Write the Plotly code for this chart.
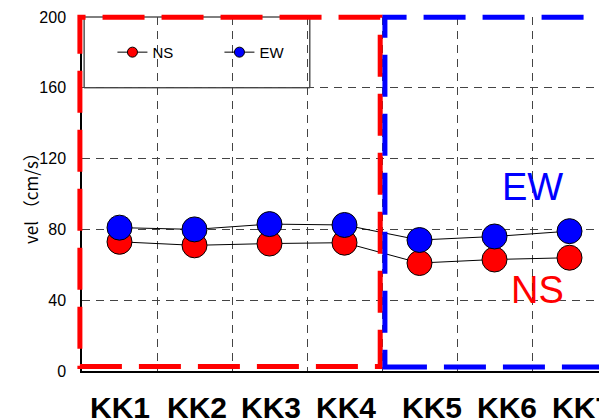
import plotly.graph_objects as go

stations = ["KK1", "KK2", "KK3", "KK4", "KK5", "KK6", "KK7"]
vel_ns = [73, 71, 72, 72.5, 61, 63, 64]
vel_ew = [81, 80, 83, 82.5, 74, 76, 79]

NARROW = "Liberation Sans Narrow, Arial Narrow, Liberation Sans, Arial, sans-serif"

fig = go.Figure()

# real series (legend drawn with small markers via dummy traces)
fig.add_trace(go.Scatter(
    x=stations, y=vel_ns, mode="lines+markers", showlegend=False,
    line=dict(color="black", width=1),
    marker=dict(color="#ff0000", size=25, line=dict(color="black", width=1)),
))
fig.add_trace(go.Scatter(
    x=stations, y=vel_ew, mode="lines+markers", showlegend=False,
    line=dict(color="black", width=1),
    marker=dict(color="#0000ff", size=25, line=dict(color="black", width=1)),
))
fig.add_trace(go.Scatter(
    x=[None], y=[None], mode="lines+markers", name="NS",
    line=dict(color="black", width=1),
    marker=dict(color="#ff0000", size=10, line=dict(color="black", width=1)),
))
fig.add_trace(go.Scatter(
    x=[None], y=[None], mode="lines+markers", name="EW",
    line=dict(color="black", width=1),
    marker=dict(color="#0000ff", size=10, line=dict(color="black", width=1)),
))

shapes = [
    # legend box
    dict(type="rect", xref="paper", yref="paper", x0=0.004, x1=0.434, y0=0.8, y1=1.0,
         line=dict(color="black", width=1), fillcolor="white", layer="between"),
    # NS region
    dict(type="rect", xref="paper", yref="paper", x0=-0.004, x1=0.568, y0=0.013, y1=0.999,
         line=dict(color="#ff0000", width=5, dash="42px,17px"), layer="above"),
    # EW region
    dict(type="rect", xref="paper", yref="paper", x0=0.577, x1=0.995, y0=0.011, y1=0.999,
         line=dict(color="#0000ff", width=5, dash="42px,17px"), layer="above"),
]

annotations = [
    dict(x=5.5, y=104, xref="x", yref="y", text="EW", showarrow=False,
         font=dict(family=NARROW, size=38, color="#0000ff")),
    dict(x=5.57, y=46, xref="x", yref="y", text="NS", showarrow=False,
         font=dict(family=NARROW, size=38, color="#ff0000")),
    dict(x=0, y=0.5, xref="paper", yref="paper", text="vel （cm/s）", textangle=-90,
         xanchor="center", yanchor="middle", showarrow=False, xshift=-52,
         font=dict(family="Noto Sans CJK JP", size=17, color="black")),
]
# station labels under the axis (the last three sit a little right of their points)
label_shift = [0, 2, 1, 1, 12, 12, 12]
for name, dx in zip(stations, label_shift):
    annotations.append(dict(
        x=name, y=0, xref="x", yref="paper", yanchor="middle", yshift=-36, xshift=dx,
        text=name, showarrow=False,
        font=dict(family=NARROW, size=30, color="black", weight="bold"),
    ))

# page body adds an 8px offset, so margins are shifted to compensate
fig.update_layout(
    width=607, height=419,
    margin=dict(l=74, r=8, t=9, b=56),
    paper_bgcolor="white", plot_bgcolor="white",
    shapes=shapes,
    annotations=annotations,
    showlegend=True,
    legend=dict(
        orientation="h", x=0.058, y=0.9, xanchor="left", yanchor="middle",
        bgcolor="rgba(0,0,0,0)", font=dict(family=NARROW, size=15, color="black"),
        entrywidth=62, entrywidthmode="pixels",
    ),
    xaxis=dict(
        type="category", range=[-0.5, 6.5], tickson="boundaries", ticks="",
        automargin=False, showticklabels=False,
        showgrid=True, gridcolor="#444", griddash="8px,6px", gridwidth=1,
        showline=True, linecolor="black", linewidth=1.5,
    ),
    yaxis=dict(
        range=[0, 200], dtick=40, ticks="", automargin=False,
        showgrid=True, gridcolor="#444", griddash="8px,6px", gridwidth=1,
        showline=True, linecolor="black", linewidth=1.5, zeroline=False,
        tickfont=dict(family=NARROW, size=16, color="black"),
        ticklabelstandoff=11, ticklabeloverflow="allow",
    ),
)

fig.write_html("out.html")
